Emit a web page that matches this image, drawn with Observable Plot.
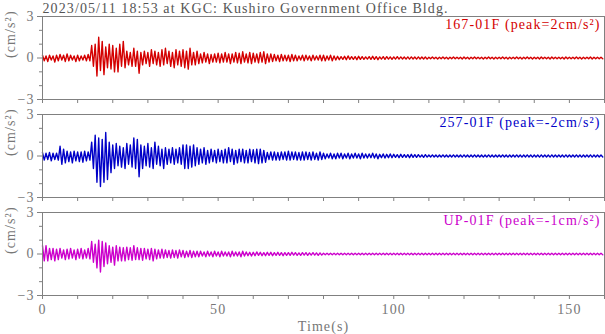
<!DOCTYPE html>
<html><head><meta charset="utf-8">
<script src="https://cdn.jsdelivr.net/npm/d3@7"></script>
<script src="https://cdn.jsdelivr.net/npm/@observablehq/plot@0.6"></script>
<style>body{margin:0;background:#fff}#chart svg{display:block}#chart svg text{letter-spacing:1.1px}</style>
</head><body><div id="chart"></div>
<script>
const title = "2023/05/11 18:53 at KGC: Kushiro Government Office Bldg.";
const channels = ["167-01F", "257-01F", "UP-01F"];
const peaks = ["2", "-2", "-1"];
const colors = ["#d40000", "#0000c8", "#cc00cc"];
const xTicks = [0,10,20,30,40,50,60,70,80,90,100,110,120,130,140,150,160];
const xLabels = [0, 50, 100, 150];
const yMajor = [-3, 0, 3];
const yMinor = [-2, -1, 1, 2];

// per-second positive / negative peaks (cm/s^2)
const hi167 = [0.2,0.15,0.2,0.15,0.2,0.25,0.2,0.3,0.2,0.15, 0.2,0.15,0.2,0.25,0.9,1.0,1.5,1.2,0.8,1.0,
 0.9,0.7,1.0,1.2,0.5,0.4,0.7,0.5,0.4,0.5, 0.4,0.6,0.5,0.4,0.6,0.7,0.5,0.4,0.6,0.5,
 0.6,0.5,0.7,0.4,0.5,0.3,0.4,0.3,0.25,0.3, 0.35,0.3,0.4,0.3,0.3,0.4,0.35,0.45,0.3,0.4,
 0.35,0.3,0.4,0.45,0.3,0.3,0.25,0.2,0.25,0.2, 0.2,0.25,0.2,0.15,0.2,0.2,0.15,0.2,0.15,0.2,
 0.2,0.15,0.2,0.15,0.12,0.1,0.12,0.15,0.1,0.1, 0.12,0.1,0.08,0.1,0.12,0.1,0.08,0.1,0.1,0.08,
 0.08,0.1,0.08,0.07,0.08,0.08,0.07,0.08,0.07,0.07, 0.06,0.07,0.06,0.06,0.07,0.06,0.06,0.07,0.06,0.06,
 0.07,0.06,0.06,0.07,0.06,0.06,0.06,0.07,0.06,0.06, 0.06,0.07,0.06,0.06,0.06,0.07,0.06,0.06,0.07,0.06,
 0.06,0.06,0.07,0.06,0.06,0.07,0.06,0.06,0.06,0.07, 0.06,0.06,0.07,0.06,0.06,0.06,0.07,0.06,0.06,0.06];
const lo167 = [-0.2,-0.25,-0.15,-0.3,-0.2,-0.15,-0.25,-0.2,-0.15,-0.25, -0.2,-0.15,-0.2,-0.2,-0.6,-1.3,-0.9,-1.2,-0.7,-0.8,
 -1.0,-1.0,-0.6,-0.7,-0.5,-0.6,-0.6,-1.1,-0.5,-0.4, -0.6,-0.4,-0.5,-0.6,-0.5,-0.4,-0.6,-0.7,-0.5,-0.6,
 -0.7,-0.8,-0.5,-0.5,-0.4,-0.35,-0.3,-0.4,-0.3,-0.3, -0.35,-0.3,-0.3,-0.4,-0.3,-0.35,-0.4,-0.3,-0.35,-0.4,
 -0.3,-0.35,-0.3,-0.4,-0.3,-0.25,-0.2,-0.25,-0.2,-0.2, -0.25,-0.2,-0.2,-0.15,-0.2,-0.15,-0.2,-0.15,-0.15,-0.2,
 -0.2,-0.15,-0.2,-0.15,-0.12,-0.1,-0.12,-0.1,-0.1,-0.12, -0.1,-0.1,-0.08,-0.1,-0.1,-0.12,-0.08,-0.1,-0.08,-0.1,
 -0.08,-0.08,-0.07,-0.08,-0.08,-0.07,-0.08,-0.07,-0.07,-0.08, -0.06,-0.06,-0.07,-0.06,-0.06,-0.07,-0.06,-0.06,-0.06,-0.07,
 -0.06,-0.07,-0.06,-0.06,-0.06,-0.07,-0.06,-0.06,-0.07,-0.06, -0.06,-0.06,-0.07,-0.06,-0.06,-0.06,-0.07,-0.06,-0.06,-0.07,
 -0.06,-0.07,-0.06,-0.06,-0.07,-0.06,-0.06,-0.06,-0.07,-0.06, -0.06,-0.06,-0.06,-0.07,-0.06,-0.06,-0.07,-0.06,-0.06,-0.06];

const hi257 = [0.25,0.2,0.25,0.2,0.2,0.7,0.5,0.35,0.3,0.35, 0.3,0.3,0.35,0.3,1.0,1.5,1.3,1.2,1.7,1.0,
 0.8,0.9,0.7,0.6,0.9,0.8,1.3,1.2,0.8,0.7, 0.9,0.6,1.0,0.7,0.5,0.6,0.5,0.6,0.5,0.6,
 0.8,0.8,0.7,0.8,0.6,0.5,0.6,0.4,0.5,0.4, 0.5,0.4,0.5,0.6,0.5,0.4,0.5,0.5,0.4,0.5,
 0.45,0.5,0.5,0.4,0.25,0.3,0.3,0.25,0.3,0.3, 0.35,0.3,0.3,0.25,0.3,0.3,0.25,0.3,0.2,0.3,
 0.2,0.15,0.2,0.15,0.2,0.2,0.15,0.2,0.15,0.2, 0.15,0.2,0.15,0.15,0.2,0.15,0.12,0.15,0.12,0.15,
 0.12,0.1,0.12,0.1,0.1,0.12,0.1,0.1,0.08,0.1, 0.07,0.08,0.07,0.07,0.08,0.07,0.07,0.08,0.07,0.07,
 0.08,0.07,0.07,0.08,0.07,0.07,0.07,0.08,0.07,0.07, 0.07,0.08,0.07,0.07,0.07,0.08,0.07,0.07,0.08,0.07,
 0.07,0.07,0.08,0.07,0.07,0.08,0.07,0.07,0.07,0.08, 0.07,0.07,0.08,0.07,0.07,0.07,0.08,0.07,0.07,0.07];
const lo257 = [-0.3,-0.25,-0.35,-0.25,-0.3,-0.6,-0.5,-0.4,-0.5,-0.35, -0.4,-0.45,-0.35,-0.3,-0.9,-1.9,-2.2,-1.9,-1.7,-1.2,
 -0.9,-0.7,-0.8,-0.9,-0.6,-0.8,-0.9,-1.5,-0.9,-0.7, -0.8,-0.9,-0.6,-0.7,-0.9,-0.6,-0.5,-0.6,-0.5,-0.6,
 -0.9,-0.9,-0.8,-0.7,-0.6,-0.5,-0.6,-0.5,-0.4,-0.5, -0.4,-0.5,-0.5,-0.4,-0.6,-0.5,-0.4,-0.5,-0.5,-0.4,
 -0.5,-0.55,-0.5,-0.45,-0.25,-0.3,-0.3,-0.3,-0.25,-0.3, -0.3,-0.25,-0.3,-0.3,-0.3,-0.25,-0.3,-0.25,-0.3,-0.25,
 -0.2,-0.15,-0.2,-0.2,-0.15,-0.2,-0.15,-0.2,-0.15,-0.15, -0.2,-0.15,-0.15,-0.12,-0.15,-0.2,-0.12,-0.15,-0.12,-0.12,
 -0.1,-0.12,-0.1,-0.1,-0.12,-0.1,-0.1,-0.08,-0.1,-0.08, -0.07,-0.07,-0.08,-0.07,-0.07,-0.08,-0.07,-0.07,-0.07,-0.08,
 -0.07,-0.08,-0.07,-0.07,-0.07,-0.08,-0.07,-0.07,-0.08,-0.07, -0.07,-0.07,-0.08,-0.07,-0.07,-0.07,-0.08,-0.07,-0.07,-0.08,
 -0.07,-0.08,-0.07,-0.07,-0.08,-0.07,-0.07,-0.07,-0.08,-0.07, -0.07,-0.07,-0.07,-0.08,-0.07,-0.07,-0.08,-0.07,-0.07,-0.07];

const hiUP = [0.6,0.6,0.4,0.4,0.35,0.4,0.3,0.35,0.4,0.3, 0.35,0.4,0.3,0.4,0.9,0.7,1.0,0.9,0.8,0.6,
 0.5,0.6,0.5,0.45,0.5,0.45,0.6,0.45,0.4,0.4, 0.35,0.4,0.35,0.3,0.35,0.3,0.25,0.3,0.25,0.3,
 0.25,0.2,0.25,0.2,0.2,0.2,0.15,0.2,0.15,0.2, 0.15,0.2,0.15,0.15,0.2,0.15,0.15,0.2,0.15,0.12,
 0.12,0.15,0.12,0.1,0.12,0.12,0.1,0.12,0.1,0.1, 0.1,0.12,0.1,0.08,0.1,0.1,0.08,0.1,0.08,0.08,
 0.06,0.05,0.06,0.05,0.05,0.06,0.05,0.05,0.06,0.05, 0.05,0.06,0.05,0.05,0.05,0.06,0.05,0.05,0.06,0.05,
 0.05,0.05,0.06,0.05,0.05,0.06,0.05,0.05,0.05,0.06, 0.05,0.05,0.06,0.05,0.05,0.05,0.06,0.05,0.05,0.05,
 0.06,0.05,0.05,0.05,0.06,0.05,0.05,0.06,0.05,0.05, 0.05,0.06,0.05,0.05,0.06,0.05,0.05,0.05,0.06,0.05,
 0.05,0.05,0.06,0.05,0.05,0.05,0.06,0.05,0.05,0.06, 0.05,0.05,0.05,0.06,0.05,0.05,0.06,0.05,0.05,0.05];
const loUP = [-0.5,-0.5,-0.4,-0.5,-0.4,-0.3,-0.4,-0.35,-0.3,-0.4, -0.3,-0.35,-0.3,-0.35,-0.6,-1.0,-1.3,-0.9,-0.7,-0.6,
 -0.8,-0.5,-0.5,-0.5,-0.4,-0.45,-0.4,-0.4,-0.45,-0.35, -0.4,-0.5,-0.35,-0.3,-0.3,-0.25,-0.3,-0.25,-0.3,-0.2,
 -0.25,-0.2,-0.25,-0.2,-0.2,-0.15,-0.2,-0.15,-0.2,-0.15, -0.2,-0.15,-0.15,-0.2,-0.15,-0.15,-0.2,-0.15,-0.12,-0.15,
 -0.12,-0.1,-0.12,-0.12,-0.1,-0.12,-0.1,-0.1,-0.12,-0.1, -0.1,-0.08,-0.1,-0.1,-0.08,-0.1,-0.08,-0.08,-0.1,-0.08,
 -0.05,-0.06,-0.05,-0.05,-0.06,-0.05,-0.05,-0.05,-0.06,-0.05, -0.06,-0.05,-0.05,-0.06,-0.05,-0.05,-0.05,-0.06,-0.05,-0.05,
 -0.05,-0.06,-0.05,-0.05,-0.05,-0.06,-0.05,-0.05,-0.06,-0.05, -0.05,-0.05,-0.06,-0.05,-0.05,-0.06,-0.05,-0.05,-0.05,-0.06,
 -0.05,-0.05,-0.06,-0.05,-0.05,-0.05,-0.06,-0.05,-0.05,-0.06, -0.05,-0.05,-0.05,-0.06,-0.05,-0.05,-0.06,-0.05,-0.05,-0.05,
 -0.06,-0.05,-0.05,-0.05,-0.06,-0.05,-0.05,-0.06,-0.05,-0.05, -0.05,-0.06,-0.05,-0.05,-0.05,-0.06,-0.05,-0.05,-0.06,-0.05];

const series = {"167-01F": [hi167, lo167], "257-01F": [hi257, lo257], "UP-01F": [hiUP, loUP]};
const rows = [];
for (const ch of channels) {
  const [hi, lo] = series[ch];
  hi.forEach((v, i) => {
    rows.push({ch, t: i, v});
    rows.push({ch, t: i + 0.5, v: lo[i]});
  });
}

const gray = "#808080";
const chart = Plot.plot({
  width: 605,
  height: 334,
  marginLeft: 42,
  marginRight: 1,
  marginTop: 15,
  marginBottom: 38,
  style: {fontFamily: "'Liberation Serif', serif", fontSize: "14px", color: "#666", background: "#fff"},
  x: {domain: [0, 160]},
  y: {domain: [-3, 3]},
  fy: {domain: channels, paddingInner: 0.15, paddingOuter: 0, axis: null, label: null},
  color: {domain: channels, range: colors},
  marks: [
    Plot.line(rows, {x: "t", y: "v", fy: "ch", stroke: "ch", strokeWidth: 1.4}),
    Plot.frame({stroke: gray}),
    Plot.axisY(yMajor, {tickSize: 5, tickPadding: 3, stroke: gray, fill: "#777", label: null}),
    Plot.axisY(yMinor, {tickSize: 3, tickFormat: () => "", stroke: gray, label: null}),
    Plot.axisX(xTicks, {tickSize: 4, tickFormat: () => "", stroke: gray, facetAnchor: null, label: null}),
    Plot.axisX(xLabels, {tickSize: 0, tickPadding: 9, fill: "#777", label: null}),
    Plot.text(channels, {fy: d => d, text: d => "(cm/s²)", frameAnchor: "left", dx: -32, rotate: -90, fill: "#777"}),
    Plot.text(channels, {fy: d => d, text: (d, i) => `${d} (peak=${peaks[i]}cm/s²)`, fill: d => d, frameAnchor: "top-right", lineAnchor: "top", dx: -4, dy: 3, textAnchor: "end"}),
    Plot.text([title], {fy: [channels[0]], text: d => d, frameAnchor: "top-left", lineAnchor: "bottom", dy: -4, textAnchor: "start", fill: "#555"}),
    Plot.text(["Time(s)"], {fy: [channels[2]], text: d => d, frameAnchor: "bottom", lineAnchor: "bottom", dy: 35, fill: "#777"})
  ]
});
document.getElementById("chart").appendChild(chart);
</script>
</body></html>
